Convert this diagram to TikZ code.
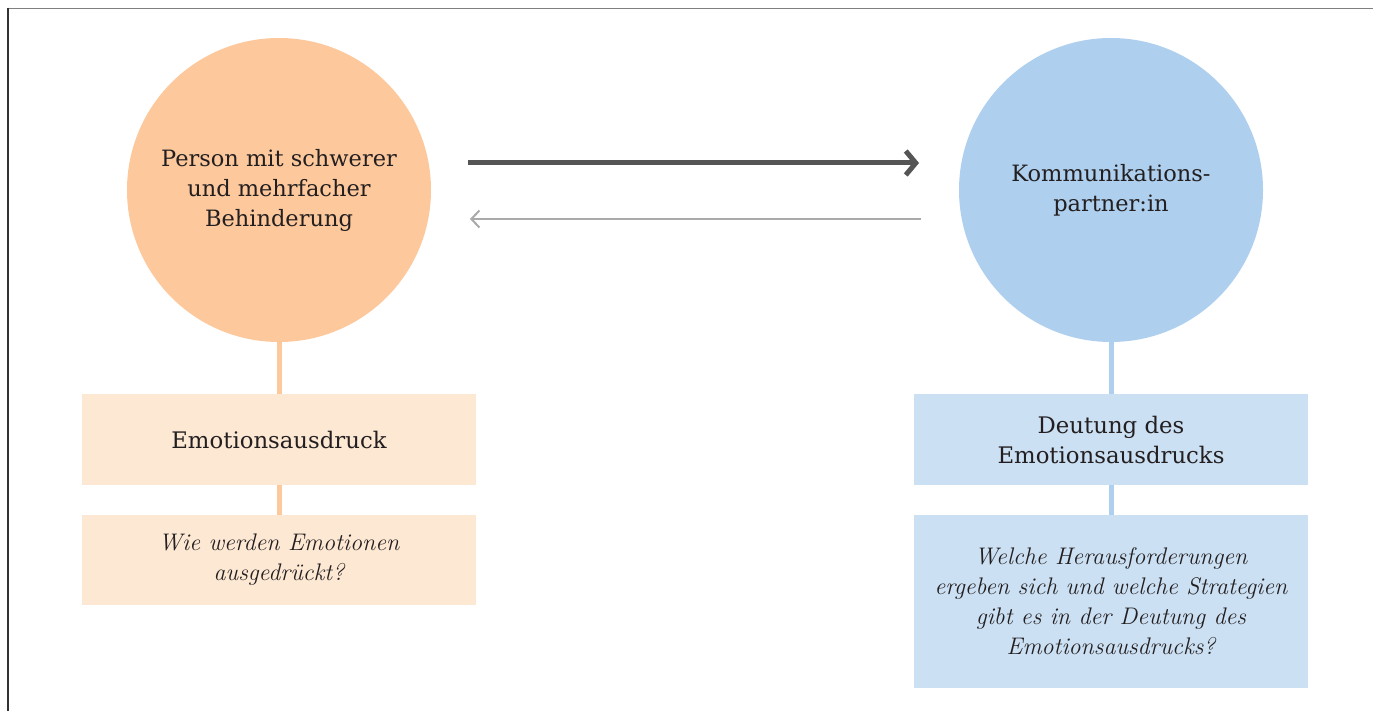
\documentclass[tikz,border=0pt]{standalone}
\usepackage{fontspec}
\newfontfamily\uprfont{DejaVu Serif}
\usetikzlibrary{arrows.meta}
\definecolor{orangeC}{HTML}{FCC89C}
\definecolor{orangeB}{HTML}{FDE8D4}
\definecolor{blueC}{HTML}{AECFEE}
\definecolor{blueB}{HTML}{CCE0F3}
\definecolor{txt}{HTML}{231F20}
\definecolor{darkarrow}{HTML}{555555}
\definecolor{lightarrow}{HTML}{AAAAAA}
\tikzset{
  bigcircle/.style={circle, minimum size=304pt, inner sep=0pt, text=txt, align=center, font=\uprfont\fontsize{22.5}{30}\selectfont},
  infobox/.style={rectangle, minimum width=394pt, minimum height=91pt, inner sep=0pt, text=txt, align=center, font=\uprfont\fontsize{22.8}{30}\selectfont},
  qbox/.style={infobox, font=\fontsize{24}{30}\selectfont\itshape},
  link/.style={line width=5pt},
}
\begin{document}
\begin{tikzpicture}[x=1pt,y=-1pt]
\useasboundingbox (0,0) rectangle (1373,711);
\draw[line width=1.8pt, color=black!50] (1373,8.5) -- (7.5,8.5);
\draw[line width=2pt, color=black!80] (7.5,7.6) -- (7.5,711);
% circles
\node[bigcircle, fill=orangeC] (p) at (279,190) {Person mit schwerer\\und mehrfacher\\Behinderung};
\node[bigcircle, fill=blueC] (k) at (1111,190) {Kommunikations-\\partner:in};
% boxes
\node[infobox, fill=orangeB] (e) at (279,439.5) {Emotionsausdruck};
\node[qbox, fill=orangeB, minimum height=90pt] (w) at (279,560) {Wie werden Emotionen\\ausgedrückt?};
\node[infobox, fill=blueB] (d) at (1111,439.5) {Deutung des\\Emotionsausdrucks};
\node[qbox, fill=blueB, minimum height=173pt] (h) at (1111,601.5) {Welche Herausforderungen\\ergeben sich und welche Strategien\\gibt es in der Deutung des\\Emotionsausdrucks?};
% vertical links
\draw[link, orangeC] (p.south) -- (e.north);
\draw[link, orangeC] (e.south) -- (w.north);
\draw[link, blueC] (k.south) -- (d.north);
\draw[link, blueC] (d.south) -- (h.north);
% arrows
\coordinate (a1s) at (468,163);
\coordinate (a1e) at (919,163);
\coordinate (a2s) at (921,219);
\coordinate (a2e) at (470,219);
\draw[line width=5pt, darkarrow, -{Straight Barb[length=10pt,width=24pt]}] (a1s) -- (a1e);
\draw[line width=2pt, lightarrow, -{Straight Barb[length=8pt,width=17pt]}] (a2s) -- (a2e);
\end{tikzpicture}
\end{document}
